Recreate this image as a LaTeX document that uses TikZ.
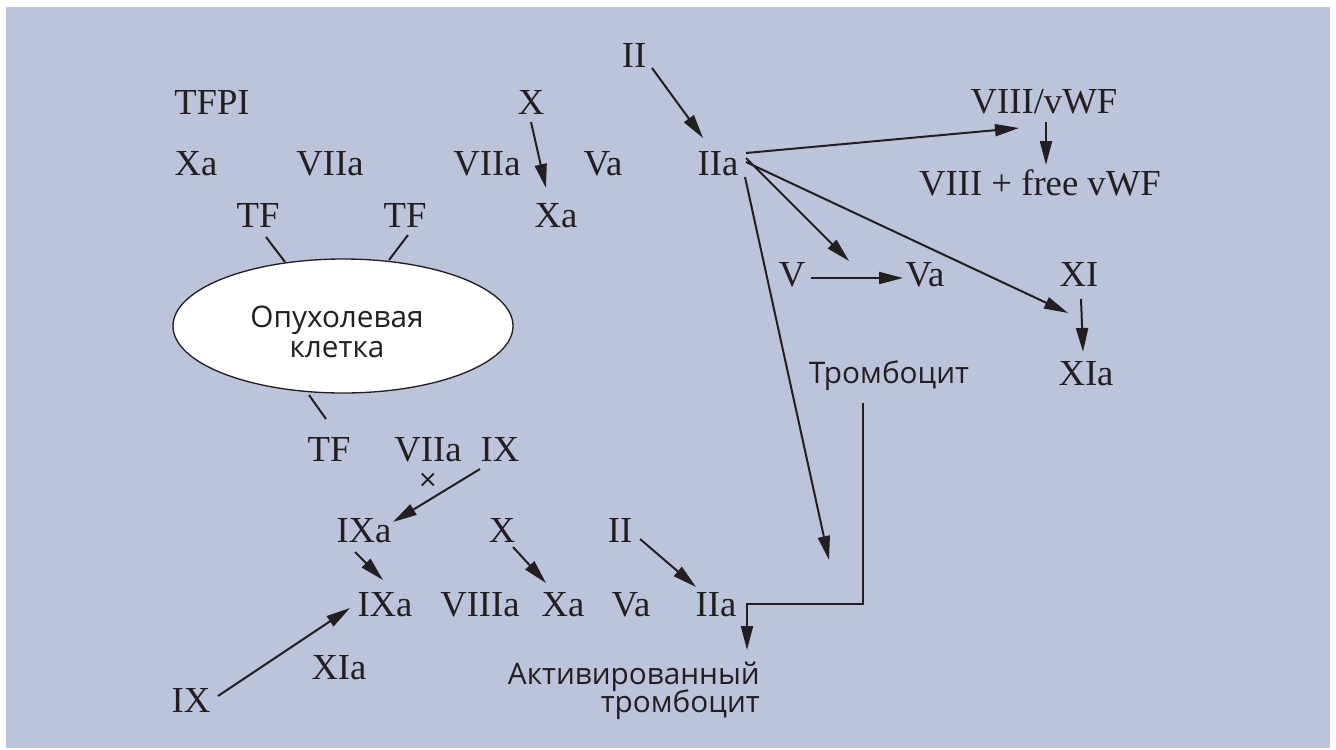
\documentclass[tikz,border=0pt]{standalone}
\usepackage{fontspec}
\setmainfont{Liberation Serif}
\newfontfamily\ruf{Open Sans}
\newfontfamily\symf{DejaVu Sans}
\usetikzlibrary{arrows.meta,shapes.geometric}
\definecolor{bg}{RGB}{187,196,218}
\definecolor{ink}{RGB}{35,31,32}
\tikzset{
  lab/.style={anchor=base, inner sep=0pt, text=ink, font=\fontsize{27.5}{30}\selectfont},
  rlab/.style={anchor=base, inner sep=0pt, text=ink, font=\ruf\fontsize{22.3}{22}\selectfont},
  arr/.style={draw=ink, line width=1.5pt, -{Triangle[length=18pt,width=9pt]}},
  ln/.style={draw=ink, line width=1.5pt},
}
\begin{document}
\begin{tikzpicture}[x=0.75pt,y=-0.75pt]
\useasboundingbox (0,0) rectangle (1336,750);
\fill[white] (0,0) rectangle (1336,750);
\fill[bg] (6,7) rectangle (1330,748);
% labels, top
\node[lab] (TFPI) at (212,114) {TFPI};
\node[lab] (Xt) at (531,114) {X};
\node[lab] (Xal) at (196,175) {Xa};
\node[lab] (VIIal) at (330,175) {VIIa};
\node[lab] (VIIam) at (487,175) {VIIa};
\node[lab] (Vam) at (603,175) {Va};
\node[lab] (TFl) at (258,227) {TF};
\node[lab] (TFr) at (405,227) {TF};
\node[lab] (Xam) at (556,227) {Xa};
\node[lab] (IIt) at (634,67) {II};
\node[lab] (IIat) at (718,175) {IIa};
\node[lab] (VIIIvWF) at (1044,113) {VIII/vWF};
\node[lab] (VIIIfree) at (1040,195) {VIII + free vWF};
\node[lab] (V) at (792,286) {V};
\node[lab] (Var) at (925,286) {Va};
\node[lab] (XI) at (1079,286) {XI};
\node[lab] (XIar) at (1086,385) {XIa};
\node[rlab] (Tromb) at (889,383) {Тромбоцит};
% cell
\node[ellipse, draw=ink, line width=1pt, fill=white, minimum width=340*0.75pt, minimum height=134*0.75pt, inner sep=0pt] (cell) at (343,326) {};
\node[rlab] (cellt1) at (337,327) {Опухолевая};
\node[rlab] (cellt2) at (337,357) {клетка};
% lower labels
\node[lab] (TFb) at (329,461) {TF};
\node[lab] (VIIab) at (428,461) {VIIa};
\node[lab] (IXu) at (500,461) {IX};
\node[anchor=center, inner sep=0pt, text=ink, font=\symf\fontsize{18}{18}\selectfont] (times) at (428,480) {×};
\node[lab] (IXau) at (364,542) {IXa};
\node[lab] (Xb) at (502,542) {X};
\node[lab] (IIb) at (620,542) {II};
\node[lab] (IXal) at (385,616) {IXa};
\node[lab] (VIIIa) at (480,616) {VIIIa};
\node[lab] (Xab) at (563,616) {Xa};
\node[lab] (Vab) at (631,616) {Va};
\node[lab] (IIab) at (716,616) {IIa};
\node[lab] (XIab) at (339,679) {XIa};
\node[lab] (IXbl) at (191,712) {IX};
\node[rlab, anchor=base east] (act1) at (760,684) {Активированный};
\node[rlab, anchor=base east] (act2) at (760,712) {тромбоцит};
% connector end points
\coordinate (tfl1) at (266,237); \coordinate (tfl2) at (285,262);
\coordinate (tfr1) at (408,235); \coordinate (tfr2) at (389,260);
\coordinate (tfb1) at (309,395); \coordinate (tfb2) at (326,419);
\coordinate (x1) at (531,122); \coordinate (x2) at (546,188);
\coordinate (ii1) at (652,68); \coordinate (ii2) at (703,138);
\coordinate (iia1) at (746,153); \coordinate (vw) at (1019,128);
\coordinate (vw1) at (1046,122); \coordinate (vw2) at (1046,165);
\coordinate (iia2) at (746,158); \coordinate (vv) at (849,261);
\coordinate (iia3) at (746,162); \coordinate (xi) at (1068,313);
\coordinate (iia4) at (745,177); \coordinate (pl) at (829,560);
\coordinate (v1) at (811,278); \coordinate (v2) at (903,278);
\coordinate (xi1) at (1081,299); \coordinate (xi2) at (1083,352);
\coordinate (tr1) at (863,403); \coordinate (tr2) at (863,604);
\coordinate (tr3) at (747,604); \coordinate (tr4) at (747,650);
\coordinate (ix1) at (480,469); \coordinate (ix2) at (393,522);
\coordinate (ixa1) at (355,552); \coordinate (ixa2) at (383,580);
\coordinate (xb1) at (513,547); \coordinate (xb2) at (546,583);
\coordinate (iib1) at (640,539); \coordinate (iib2) at (696,587);
\coordinate (ixl1) at (218,696); \coordinate (ixl2) at (350,608);
% connectors
\draw[ln] (tfl1) -- (tfl2);
\draw[ln] (tfr1) -- (tfr2);
\draw[ln] (tfb1) -- (tfb2);
\draw[arr] (x1) -- (x2);
\draw[arr] (ii1) -- (ii2);
\draw[arr] (iia1) -- (vw);
\draw[arr] (vw1) -- (vw2);
\draw[arr] (iia2) -- (vv);
\draw[arr] (iia3) -- (xi);
\draw[arr] (iia4) -- (pl);
\draw[arr] (v1) -- (v2);
\draw[arr] (xi1) -- (xi2);
\draw[arr] (tr1) -- (tr2) -- (tr3) -- (tr4);
\draw[arr] (ix1) -- (ix2);
\draw[arr] (ixa1) -- (ixa2);
\draw[arr] (xb1) -- (xb2);
\draw[arr] (iib1) -- (iib2);
\draw[arr] (ixl1) -- (ixl2);
\end{tikzpicture}
\end{document}
